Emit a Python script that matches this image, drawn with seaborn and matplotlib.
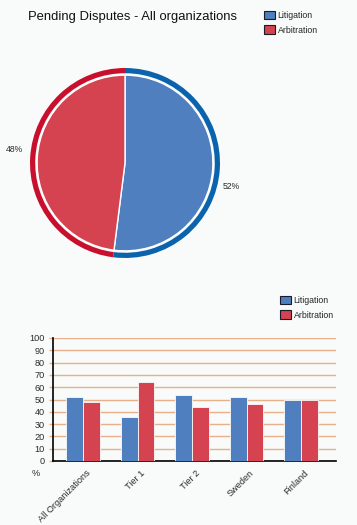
import matplotlib
matplotlib.use("Agg")
import matplotlib.pyplot as plt
import matplotlib.transforms as mtrans
import seaborn as sns
import pandas as pd
from matplotlib.patches import Patch

# ---- data ----
series = ["Litigation", "Arbitration"]
pie_values = [52, 48]
categories = ["All Organizations", "Tier 1", "Tier 2", "Sweden", "Finland"]
litigation = [52, 36, 54, 52, 50]
arbitration = [48, 64, 44, 46, 50]
yticks = [0, 10, 20, 30, 40, 50, 60, 70, 80, 90, 100]
title = "Pending Disputes - All organizations"

# ---- style ----
BG = "#f8fbf9"
fill_cols = ["#4f7fbf", "#d4434f"]
ring_cols = ["#0b63ad", "#c8102e"]
GRID = "#e8b08a"
TXT = "#2a2a2a"

sns.set_theme(style="white")
plt.rcParams["font.family"] = ["Liberation Sans", "DejaVu Sans"]

W, H = 357, 525
fig = plt.figure(figsize=(W / 100, H / 100), dpi=100, facecolor=BG)

def box(l, t, r, b):
    return [l / W, 1 - b / H, (r - l) / W, (b - t) / H]

# ---- title ----
fig.text(28 / W, 1 - 17 / H, title, fontsize=9.4, color="#111111", ha="left", va="center")

# ---- pie ----
axp = fig.add_axes(box(30, 68, 220, 258))
axp.set_facecolor(BG)
axp.pie(pie_values, colors=ring_cols, startangle=90, counterclock=False, radius=1.0,
        wedgeprops=dict(width=0.055, edgecolor="none"))
axp.pie(pie_values, colors=fill_cols, startangle=90, counterclock=False, radius=0.925,
        wedgeprops=dict(edgecolor="white", linewidth=1.0))
axp.set_xlim(-1, 1)
axp.set_ylim(-1, 1)
axp.set_aspect("equal")
axp.axis("off")
axp.text(1.115, -0.25, f"{pie_values[0]}%", fontsize=6.2, color=TXT, ha="center", va="center")
axp.text(-1.16, 0.14, f"{pie_values[1]}%", fontsize=6.2, color=TXT, ha="center", va="center")

handles = [Patch(facecolor=c, edgecolor="#1a1a2a", linewidth=0.8) for c in fill_cols]
leg_kw = dict(frameon=False, fontsize=6.3, handlelength=1.2, handleheight=1.2,
              handletextpad=0.35, labelspacing=0.62, borderaxespad=0, borderpad=0)
fig.legend(handles, series, loc="upper left", bbox_to_anchor=(264 / W, 1 - 10.5 / H), **leg_kw)

# ---- bars ----
df = pd.DataFrame({
    "category": categories * 2,
    "series": [series[0]] * len(categories) + [series[1]] * len(categories),
    "value": litigation + arbitration,
})
axb = fig.add_axes(box(53, 338, 336, 461))
axb.set_facecolor(BG)
sns.barplot(data=df, x="category", y="value", hue="series", order=categories,
            hue_order=series, palette=fill_cols, saturation=1, width=0.62, ax=axb,
            edgecolor=BG, linewidth=0.6, legend=False, zorder=3)
axb.set_xlim(-0.55, 4.64)
axb.set_ylim(0, 100)
axb.set_yticks(yticks)
axb.yaxis.grid(True, color=GRID, linewidth=1.0, zorder=0)
axb.set_axisbelow(True)
for s in ["top", "right"]:
    axb.spines[s].set_visible(False)
axb.spines["left"].set_color("black")
axb.spines["left"].set_linewidth(1.2)
axb.spines["bottom"].set_color("black")
axb.spines["bottom"].set_linewidth(1.2)
axb.tick_params(axis="y", length=3, color=GRID, width=1.0, labelsize=6.6,
                labelcolor=TXT, pad=3, left=True)
axb.tick_params(axis="x", length=0, labelsize=6.6, labelcolor=TXT, pad=4)
axb.set_xlabel("")
axb.set_ylabel("")
offset = mtrans.ScaledTranslation(3 / 100, -2 / 100, fig.dpi_scale_trans)
for lab in axb.get_xticklabels():
    lab.set_rotation(45)
    lab.set_ha("right")
    lab.set_rotation_mode("anchor")
    lab.set_transform(lab.get_transform() + offset)
fig.text(36 / W, 1 - 473 / H, "%", fontsize=6.6, color=TXT, ha="center", va="center")

fig.legend(handles, series, loc="upper left", bbox_to_anchor=(280 / W, 1 - 295.5 / H), **leg_kw)

fig.savefig("out.png", dpi=100, facecolor=BG)
